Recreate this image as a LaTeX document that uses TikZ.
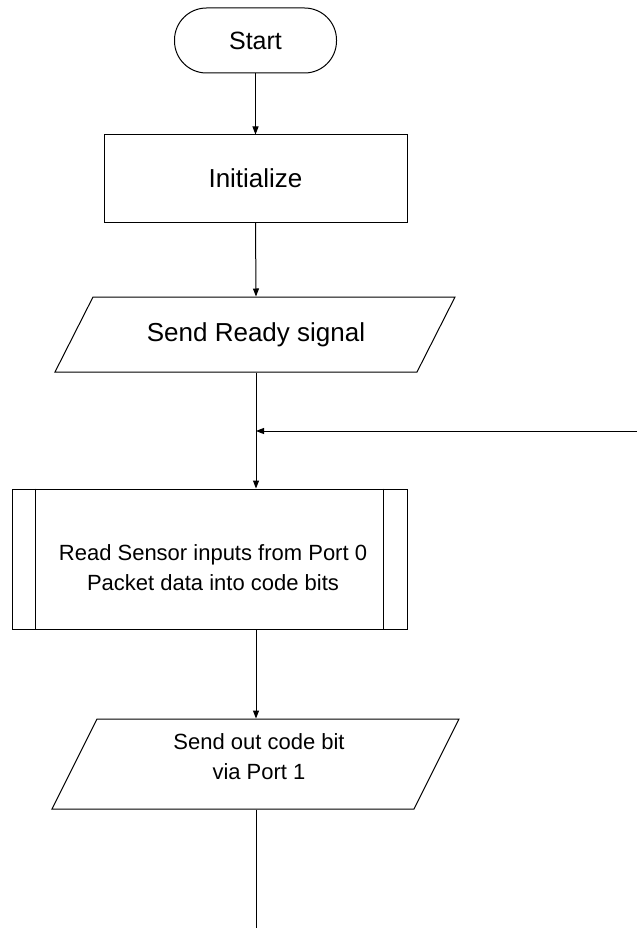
\documentclass[tikz,border=0pt]{standalone}
\usepackage{fontspec}
\setmainfont{Liberation Sans}
\usetikzlibrary{arrows.meta}
\begin{document}
\begin{tikzpicture}[x=1pt,y=-1pt,
  line width=1pt,
  arr/.style={-{Triangle[length=8pt,width=6pt]}},
  txt/.style={align=center, inner sep=0pt},
  big/.style={font=\fontsize{26}{31}\selectfont},
  small/.style={font=\fontsize{22}{30}\selectfont},
  ]
\useasboundingbox (0,0) rectangle (637,928);
% terminal
\node[draw, rounded corners=32pt, minimum width=162pt, minimum height=65pt, inner sep=0pt, font=\fontsize{25}{30}\selectfont] (start) at (255.5,40.5) {Start};
% process
\node[draw, minimum width=303pt, minimum height=87pt, inner sep=0pt, big] (init) at (255.5,178.5) {Initialize};
% I/O 1
\node[txt, big, minimum height=75pt] (ready) at (256,334.5) {Send Ready signal};
\draw (55,372) -- (93,297) -- (455,297) -- (417,372) -- cycle;
% junction
\coordinate (j) at (256,431);
\coordinate (fb) at (637,431);
% predefined process
\node[draw, minimum width=395pt, minimum height=140pt, inner sep=0pt] (sub) at (209.5,559) {};
\draw ([xshift=24pt]sub.north west) -- ([xshift=24pt]sub.south west);
\draw ([xshift=-24pt]sub.north east) -- ([xshift=-24pt]sub.south east);
\node[txt, small] (subtxt) at (213,568) {Read Sensor inputs from Port 0\\Packet data into code bits};
% I/O 2
\node[minimum height=90pt, inner sep=0pt] (code) at (256,764) {};
\draw (52,809) -- (97,719) -- (459,719) -- (414,809) -- cycle;
\node[txt, small] (codetxt) at (259,757) {Send out code bit\\via Port 1};
\coordinate (end) at (256,928);
% connectors
\draw[arr] (start.south) -- (init.north);
\draw[arr] (init.south) -- (ready.north);
\draw (ready.south) -- (j);
\draw[arr] (j) -- (j |- sub.north);
\draw[arr] (fb) -- (j);
\draw[arr] (j |- sub.south) -- (code.north);
\draw (code.south) -- (end);
\end{tikzpicture}
\end{document}
